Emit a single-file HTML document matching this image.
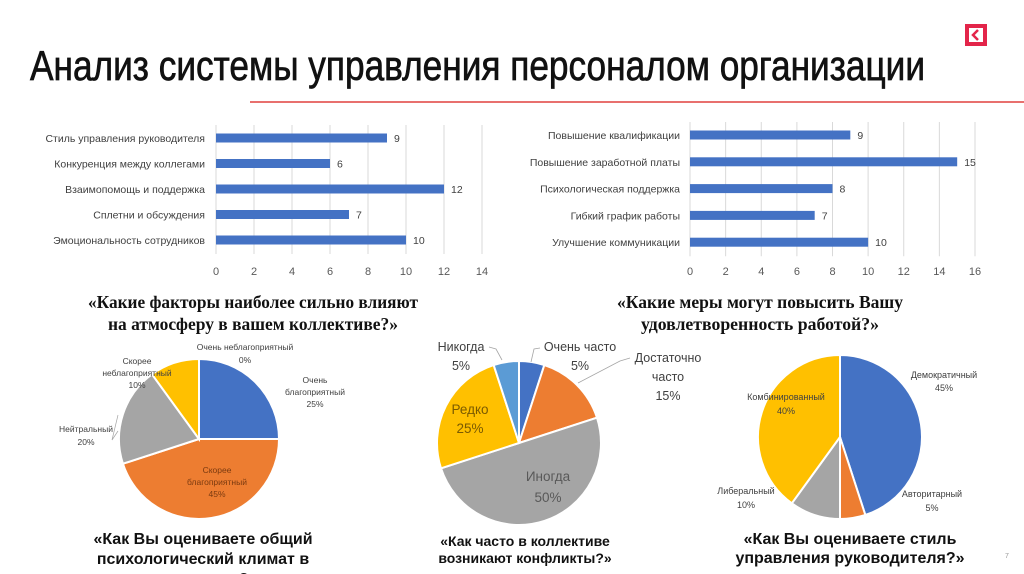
<!DOCTYPE html>
<html><head><meta charset="utf-8"><style>
html,body{margin:0;padding:0;background:#fff;width:1024px;height:574px;overflow:hidden}
svg{display:block;font-family:"Liberation Sans","DejaVu Sans",sans-serif}
</style></head><body>
<svg id="s" width="1024" height="574" viewBox="0 0 1024 574" xmlns="http://www.w3.org/2000/svg">
<text x="30" y="80" font-size="42" fill="#111" stroke="#111" stroke-width="0.7" textLength="895" lengthAdjust="spacingAndGlyphs">Анализ системы управления персоналом организации</text>
<line x1="250" y1="102" x2="1024" y2="102" stroke="#e0403f" stroke-width="1.5"/>
<g>
<rect x="965" y="24" width="22" height="22" fill="#e3254a"/><rect x="969" y="28" width="14" height="14" fill="#fff"/>
<path d="M978 30 L973 35 L978 40" stroke="#e3254a" stroke-width="2.5" fill="none"/></g>
<g id="bar1"></g>
<g id="bar2"></g>
<g font-family="Liberation Serif,serif" font-weight="bold" font-size="18" fill="#111" text-anchor="middle">
<text x="253" y="308" textLength="330" lengthAdjust="spacingAndGlyphs">«Какие факторы наиболее сильно влияют</text>
<text x="253" y="330" textLength="290" lengthAdjust="spacingAndGlyphs">на атмосферу в вашем коллективе?»</text>
<text x="760" y="308" textLength="286" lengthAdjust="spacingAndGlyphs">«Какие меры могут повысить Вашу</text>
<text x="760" y="330" textLength="238" lengthAdjust="spacingAndGlyphs">удовлетворенность работой?»</text>
</g>
<g id="pie1"></g>
<g id="pie2"></g>
<g id="pie3"></g>
<g font-weight="bold" font-size="16" fill="#111" text-anchor="middle">
<text x="203" y="544">«Как Вы оцениваете общий</text>
<text x="203" y="564">психологический климат в</text>
<text x="203" y="584">коллективе?»</text>
<text x="525" y="546" font-size="14">«Как часто в коллективе</text>
<text x="525" y="563" font-size="14">возникают конфликты?»</text>
<text x="850" y="544">«Как Вы оцениваете стиль</text>
<text x="850" y="563">управления руководителя?»</text>
</g>
<text x="1005" y="558" font-size="7" fill="#999">7</text>
</svg>
<script>
const NS="http://www.w3.org/2000/svg";
const cats1=["Стиль управления руководителя","Конкуренция между коллегами","Взаимопомощь и поддержка","Сплетни и обсуждения","Эмоциональность сотрудников"];
const vals1=[9,6,12,7,10];
const ticks1=[0,2,4,6,8,10,12,14];
const cats2=["Повышение квалификации","Повышение заработной платы","Психологическая поддержка","Гибкий график работы","Улучшение коммуникации"];
const vals2=[9,15,8,7,10];
const ticks2=[0,2,4,6,8,10,12,14,16];
const pie1Labels=["Очень благоприятный","Скорее благоприятный","Нейтральный","Скорее неблагоприятный","Очень неблагоприятный"];
const pie1Vals=[25,45,20,10,0];
const pie2Labels=["Очень часто","Достаточно часто","Иногда","Редко","Никогда"];
const pie2Vals=[5,15,50,25,5];
const pie3Labels=["Демократичный","Авторитарный","Либеральный","Комбинированный"];
const pie3Vals=[45,5,10,40];

function el(tag,attrs,parent){const e=document.createElementNS(NS,tag);for(const k in attrs)e.setAttribute(k,attrs[k]);parent.appendChild(e);return e;}

function barChart(g,cats,vals,ticks,x0,x1,yTop,step,tickY,labRight){
  const max=ticks[ticks.length-1];
  const sx=v=>x0+(x1-x0)*v/max;
  ticks.forEach(t=>{
    const l=el('line',{x1:sx(t),x2:sx(t),y1:yTop-13,y2:yTop+step*(cats.length-1)+14,stroke:'#d9d9d9','stroke-width':1},g);
    
    
    const tx=el('text',{x:sx(t),y:tickY,'font-size':11,fill:'#595959','text-anchor':'middle'},g);
    tx.textContent=t;
    
    
  });
  cats.forEach((c,i)=>{
    const y=yTop+step*i;
    const r=el('rect',{x:sx(0),y:y-4.5,width:sx(vals[i])-sx(0),height:9,fill:'#4472c4'},g);
    
    
    const lb=el('text',{x:labRight,y:y+4,'font-size':10.5,fill:'#404040','text-anchor':'end'},g);
    lb.textContent=c;
    
    
    const vl=el('text',{x:sx(vals[i])+7,y:y+4,'font-size':10.5,fill:'#404040'},g);
    vl.textContent=vals[i];
    
    
  });
}
barChart(document.getElementById('bar1'),cats1,vals1,ticks1,216,482,138,25.5,275,205);
barChart(document.getElementById('bar2'),cats2,vals2,ticks2,690,975,135,26.8,275,680);

const colors=['#4472c4','#ed7d31','#a5a5a5','#ffc000','#5b9bd5'];
function pie(g,vals,cx,cy,r,cols){
  const tot=vals.reduce((a,b)=>a+b,0);let a=0;
  vals.forEach((v,i)=>{
    if(v<=0)return;
    const a0=a/tot*2*Math.PI;a+=v;const a1=a/tot*2*Math.PI;
    const p=ang=>[cx+r*Math.sin(ang),cy-r*Math.cos(ang)];
    const [x0,y0]=p(a0),[x1,y1]=p(a1);
    const large=(a1-a0)>Math.PI?1:0;
    const s=el('path',{d:`M${cx},${cy} L${x0},${y0} A${r},${r} 0 ${large} 1 ${x1},${y1} Z`,fill:cols[i],stroke:'#fff','stroke-width':2},g);
    
    
  });
}
function label(g,lines,x,y,size,fill,lh){
  const t=el('text',{x:x,y:y,'font-size':size,fill:fill,'text-anchor':'middle'},g);
  
  
  lines.forEach((ln,i)=>{const s=el('tspan',{x:x,dy:i?lh:0},t);s.textContent=ln;});
}
const g1=document.getElementById('pie1');
pie(g1,pie1Vals,199,439,80,colors);
label(g1,[pie1Labels[4],pie1Vals[4]+'%'],245,350,8.5,'#404040',13);
label(g1,['Очень','благоприятный',pie1Vals[0]+'%'],315,383,8.5,'#404040',12);
label(g1,['Скорее','благоприятный',pie1Vals[1]+'%'],217,473,8.5,'#7a3a10',12);
label(g1,[pie1Labels[2],pie1Vals[2]+'%'],86,432,8.5,'#404040',13);
label(g1,['Скорее','неблагоприятный',pie1Vals[3]+'%'],137,364,8.5,'#404040',12);
el('path',{d:'M118,431 L112,440 L118,415',stroke:'#a5a5a5',fill:'none','stroke-width':0.7},g1);

const g2=document.getElementById('pie2');
pie(g2,pie2Vals,519,443,82,colors);
label(g2,[pie2Labels[0],pie2Vals[0]+'%'],580,351,12.5,'#404040',19);
label(g2,['Достаточно','часто',pie2Vals[1]+'%'],668,362,12.5,'#404040',19);
label(g2,[pie2Labels[2],pie2Vals[2]+'%'],548,481,13.5,'#595959',21);
label(g2,[pie2Labels[3],pie2Vals[3]+'%'],470,414,13.5,'#7a5a00',19);
label(g2,[pie2Labels[4],pie2Vals[4]+'%'],461,351,12.5,'#404040',19);
el('path',{d:'M489,347 L496,349 L502,360',stroke:'#a5a5a5',fill:'none','stroke-width':0.8},g2);
el('path',{d:'M540,348 L534,349 L531,362',stroke:'#a5a5a5',fill:'none','stroke-width':0.8},g2);
el('path',{d:'M630,358 L620,361 L578,383',stroke:'#a5a5a5',fill:'none','stroke-width':0.8},g2);

const g3=document.getElementById('pie3');
pie(g3,pie3Vals,840,437,82,colors);
label(g3,[pie3Labels[0],pie3Vals[0]+'%'],944,378,9,'#404040',13);
label(g3,[pie3Labels[1],pie3Vals[1]+'%'],932,497,9,'#404040',14);
label(g3,[pie3Labels[2],pie3Vals[2]+'%'],746,494,9,'#404040',14);
label(g3,[pie3Labels[3],pie3Vals[3]+'%'],786,400,9,'#404040',14);
</script>
</body></html>
